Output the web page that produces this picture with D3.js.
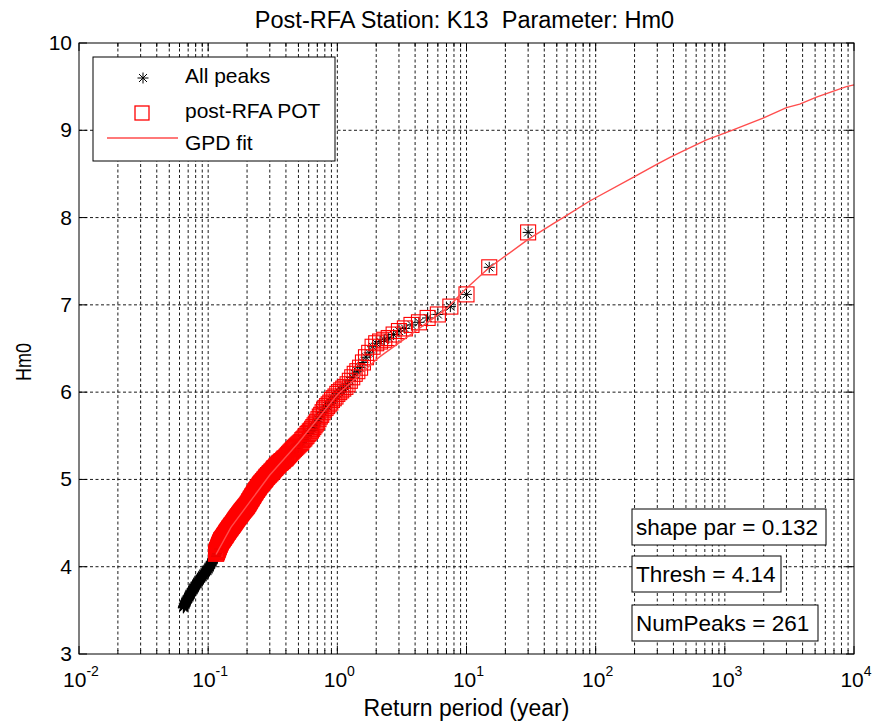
<!DOCTYPE html>
<html>
<head>
<meta charset="utf-8">
<script src="https://cdn.jsdelivr.net/npm/d3@7"></script>
<style>
  body { margin: 0; background: #fff; }
  svg text { font-family: Arial, "Liberation Sans", sans-serif; fill: #000; white-space: pre; }
</style>
</head>
<body>
<script>
// record length (years) used for the plotting position T = recordYears / rank
const recordYears = 30;

// all storm peaks Hm0, sorted descending (rank 1 first)
const peaksHm0 = [
  7.83, 7.43, 7.12, 6.98, 6.89, 6.85, 6.80, 6.77, 6.73, 6.70,
  6.66, 6.62, 6.60, 6.58, 6.56, 6.52, 6.45, 6.40, 6.34, 6.28,
  6.24, 6.21, 6.17, 6.13, 6.09, 6.06, 6.04, 6.02, 6.00, 5.98,
  5.95, 5.93, 5.91, 5.88, 5.86, 5.84, 5.82, 5.80, 5.77, 5.74,
  5.72, 5.69, 5.66, 5.64, 5.62, 5.60, 5.58, 5.56, 5.55, 5.53,
  5.52, 5.50, 5.49, 5.47, 5.46, 5.45, 5.43, 5.42, 5.41, 5.40,
  5.39, 5.38, 5.37, 5.36, 5.35, 5.34, 5.33, 5.32, 5.31, 5.30,
  5.29, 5.28, 5.27, 5.26, 5.25, 5.24, 5.24, 5.23, 5.22, 5.21,
  5.21, 5.20, 5.19, 5.19, 5.18, 5.17, 5.16, 5.16, 5.15, 5.14,
  5.13, 5.13, 5.12, 5.11, 5.10, 5.09, 5.09, 5.08, 5.07, 5.07,
  5.06, 5.05, 5.05, 5.04, 5.03, 5.03, 5.02, 5.01, 5.00, 5.00,
  4.99, 4.98, 4.98, 4.97, 4.96, 4.96, 4.95, 4.94, 4.94, 4.93,
  4.92, 4.91, 4.91, 4.90, 4.89, 4.88, 4.88, 4.87, 4.86, 4.85,
  4.85, 4.84, 4.83, 4.82, 4.81, 4.81, 4.80, 4.79, 4.78, 4.78,
  4.77, 4.76, 4.75, 4.75, 4.74, 4.73, 4.72, 4.72, 4.71, 4.70,
  4.70, 4.69, 4.69, 4.68, 4.68, 4.67, 4.67, 4.66, 4.66, 4.65,
  4.65, 4.64, 4.64, 4.63, 4.63, 4.62, 4.62, 4.61, 4.61, 4.60,
  4.60, 4.59, 4.59, 4.58, 4.58, 4.57, 4.57, 4.56, 4.56, 4.55,
  4.55, 4.54, 4.54, 4.53, 4.53, 4.52, 4.52, 4.51, 4.51, 4.50,
  4.50, 4.49, 4.49, 4.48, 4.48, 4.47, 4.47, 4.47, 4.46, 4.46,
  4.45, 4.45, 4.44, 4.44, 4.44, 4.43, 4.43, 4.42, 4.42, 4.41,
  4.41, 4.40, 4.40, 4.40, 4.39, 4.39, 4.38, 4.38, 4.37, 4.37,
  4.36, 4.36, 4.36, 4.35, 4.35, 4.34, 4.34, 4.33, 4.33, 4.33,
  4.32, 4.32, 4.31, 4.31, 4.31, 4.30, 4.30, 4.30, 4.29, 4.28,
  4.28, 4.27, 4.27, 4.26, 4.25, 4.25, 4.24, 4.23, 4.23, 4.22,
  4.21, 4.21, 4.20, 4.19, 4.19, 4.18, 4.17, 4.17, 4.16, 4.15,
  4.15, 4.13, 4.13, 4.12, 4.12, 4.11, 4.11, 4.11, 4.10, 4.10,
  4.09, 4.09, 4.08, 4.08, 4.08, 4.07, 4.07, 4.06, 4.06, 4.05,
  4.05, 4.05, 4.04, 4.04, 4.03, 4.03, 4.02, 4.02, 4.02, 4.01,
  4.01, 4.00, 4.00, 4.00, 3.99, 3.99, 3.99, 3.98, 3.98, 3.98,
  3.97, 3.97, 3.97, 3.96, 3.96, 3.96, 3.96, 3.95, 3.95, 3.95,
  3.95, 3.94, 3.94, 3.94, 3.94, 3.93, 3.93, 3.93, 3.93, 3.92,
  3.92, 3.92, 3.92, 3.91, 3.91, 3.91, 3.91, 3.90, 3.90, 3.90,
  3.90, 3.89, 3.89, 3.89, 3.89, 3.88, 3.88, 3.88, 3.88, 3.87,
  3.87, 3.87, 3.87, 3.86, 3.86, 3.86, 3.86, 3.85, 3.85, 3.85,
  3.85, 3.84, 3.84, 3.84, 3.84, 3.83, 3.83, 3.83, 3.83, 3.82,
  3.82, 3.82, 3.82, 3.81, 3.81, 3.81, 3.81, 3.80, 3.80, 3.80,
  3.80, 3.79, 3.79, 3.79, 3.79, 3.78, 3.78, 3.78, 3.77, 3.77,
  3.77, 3.77, 3.76, 3.76, 3.76, 3.76, 3.75, 3.75, 3.75, 3.75,
  3.74, 3.74, 3.74, 3.74, 3.73, 3.73, 3.73, 3.73, 3.72, 3.72,
  3.72, 3.71, 3.71, 3.71, 3.71, 3.70, 3.70, 3.70, 3.70, 3.69,
  3.69, 3.69, 3.68, 3.68, 3.68, 3.68, 3.67, 3.67, 3.67, 3.67,
  3.66, 3.66, 3.66, 3.65, 3.65, 3.65, 3.65, 3.64, 3.64, 3.64,
  3.64, 3.63, 3.63, 3.63, 3.62, 3.62, 3.62, 3.62, 3.61, 3.61,
  3.61, 3.61, 3.60, 3.60, 3.60, 3.59, 3.59, 3.59, 3.59, 3.58,
  3.58, 3.58, 3.57, 3.57, 3.57, 3.57, 3.56, 3.56, 3.56, 3.55,
  3.55, 3.55, 3.54, 3.54, 3.54, 3.53, 3.53
];

// number of peaks over threshold (the red squares are the top ranks)
const numPot = 261;
const threshold = 4.14;
const shapePar = 0.132;

// GPD fit
const fitT   = [0.115, 0.15, 0.2, 0.3, 0.5, 1, 2, 2.15, 5, 7.05, 10, 14.8, 30, 47, 56, 90, 195, 297, 376, 505, 721, 1095, 1977, 3000, 3800, 5120, 8730, 10000];
const fitHm0 = [4.14, 4.45, 4.70, 5.05, 5.42, 5.97, 6.37, 6.41, 6.80, 6.96, 7.19, 7.42, 7.75, 7.93, 8.00, 8.19, 8.46, 8.61, 8.69, 8.78, 8.89, 8.99, 9.14, 9.26, 9.30, 9.38, 9.50, 9.52];

const xDomain = [1e-2, 1e4];
const yTicks = [3, 4, 5, 6, 7, 8, 9, 10];
const xExponents = [-2, -1, 0, 1, 2, 3, 4];

const W = 874, H = 728;
const M = {left: 79, top: 43, right: 20, bottom: 74};
const pw = W - M.left - M.right, ph = H - M.top - M.bottom;

const svg = d3.select('body').append('svg')
  .attr('width', W).attr('height', H);

const x = d3.scaleLog().domain(xDomain).range([0, pw]);
const y = d3.scaleLinear().domain([3, 10]).range([ph, 0]);

const g = svg.append('g').attr('transform', 'translate(' + M.left + ',' + M.top + ')');

// grid
const minorX = [];
xExponents.forEach(e => {
  for (let m = 1; m < 10; m++) {
    const v = m * Math.pow(10, e);
    if (v >= xDomain[0] && v <= xDomain[1]) minorX.push(v);
  }
});

g.append('g').selectAll('line').data(minorX.filter(v => v > xDomain[0] && v < xDomain[1]))
  .enter().append('line')
  .attr('x1', d => x(d)).attr('x2', d => x(d))
  .attr('y1', 0).attr('y2', ph)
  .attr('stroke', '#000').attr('stroke-width', 0.9)
  .attr('stroke-dasharray', '3,2.5');

g.append('g').selectAll('line').data(yTicks.slice(1, -1))
  .enter().append('line')
  .attr('x1', 0).attr('x2', pw)
  .attr('y1', d => y(d)).attr('y2', d => y(d))
  .attr('stroke', '#000').attr('stroke-width', 0.9)
  .attr('stroke-dasharray', '3,2.5');

// ticks inside the box on all four sides
const tk = g.append('g').attr('stroke', '#000').attr('stroke-width', 1);
minorX.forEach(v => {
  const len = Number.isInteger(Math.log10(v)) ? 8 : 4;
  tk.append('line').attr('x1', x(v)).attr('x2', x(v)).attr('y1', ph).attr('y2', ph - len);
  tk.append('line').attr('x1', x(v)).attr('x2', x(v)).attr('y1', 0).attr('y2', len);
});
yTicks.forEach(v => {
  tk.append('line').attr('x1', 0).attr('x2', 8).attr('y1', y(v)).attr('y2', y(v));
  tk.append('line').attr('x1', pw).attr('x2', pw - 8).attr('y1', y(v)).attr('y2', y(v));
});

// data
const peaks = peaksHm0.map((h, i) => ({T: recordYears / (i + 1), h: h}));
const pot = peaks.slice(0, numPot);

const star = 'M-5.5,0L5.5,0M0,-5.5L0,5.5M-4,-4L4,4M-4,4L4,-4';

g.append('g').selectAll('path').data(peaks).enter().append('path')
  .attr('transform', d => 'translate(' + x(d.T) + ',' + y(d.h) + ')')
  .attr('d', star)
  .attr('stroke', '#000').attr('stroke-width', 1).attr('fill', 'none');

g.append('g').selectAll('rect').data(pot).enter().append('rect')
  .attr('x', d => x(d.T) - 7.5).attr('y', d => y(d.h) - 7.5)
  .attr('width', 15).attr('height', 15)
  .attr('fill', 'none').attr('stroke', '#ff0000').attr('stroke-width', 1.1);

const fit = fitT.map((t, i) => ({T: t, h: fitHm0[i]}));
g.append('path').datum(fit)
  .attr('d', d3.line().x(d => x(d.T)).y(d => y(d.h)))
  .attr('fill', 'none').attr('stroke', '#ff4d4d').attr('stroke-width', 1.4);

// box
g.append('rect').attr('width', pw).attr('height', ph)
  .attr('fill', 'none').attr('stroke', '#000').attr('stroke-width', 1);

// tick labels
const xl = svg.append('g').attr('font-size', 21);
xExponents.forEach(e => {
  const t = xl.append('text')
    .attr('x', M.left + x(Math.pow(10, e)) + 2)
    .attr('y', 687)
    .attr('text-anchor', 'middle');
  t.append('tspan').text('10');
  t.append('tspan').attr('dy', -11).attr('font-size', 14).text(e);
});

svg.append('g').attr('font-size', 21).selectAll('text').data(yTicks).enter().append('text')
  .attr('x', M.left - 7)
  .attr('y', d => M.top + y(d) + 7)
  .attr('text-anchor', 'end')
  .text(d => d);

// titles
svg.append('text').attr('x', M.left + pw / 2 - 2).attr('y', 28)
  .attr('text-anchor', 'middle').attr('font-size', 23.5)
  .text('Post-RFA Station: K13  Parameter: Hm0');

svg.append('text').attr('x', M.left + pw / 2).attr('y', 716)
  .attr('text-anchor', 'middle').attr('font-size', 23)
  .text('Return period (year)');

svg.append('text').attr('transform', 'translate(31,362) scale(1.25,1) rotate(-90)')
  .attr('text-anchor', 'middle').attr('font-size', 18)
  .text('Hm0');

// legend
const lg = svg.append('g').attr('transform', 'translate(93,57)');
lg.append('rect').attr('width', 242).attr('height', 104)
  .attr('fill', '#fff').attr('stroke', '#000').attr('stroke-width', 1);
lg.append('path').attr('transform', 'translate(50,21)').attr('d', star)
  .attr('stroke', '#000').attr('stroke-width', 1);
lg.append('rect').attr('x', 42).attr('y', 49).attr('width', 14).attr('height', 14)
  .attr('fill', 'none').attr('stroke', '#ff0000').attr('stroke-width', 1.3);
lg.append('line').attr('x1', 14).attr('x2', 85).attr('y1', 81).attr('y2', 81)
  .attr('stroke', '#ff4d4d').attr('stroke-width', 1.4);
const legendRows = [26, 61, 93];
['All peaks', 'post-RFA POT', 'GPD fit'].forEach((s, i) => {
  lg.append('text').attr('x', 92).attr('y', legendRows[i]).attr('font-size', 21).text(s);
});

// annotation boxes
const notes = [
  {text: 'shape par = ' + shapePar.toFixed(3), y: 509, w: 194},
  {text: 'Thresh = ' + threshold, y: 556, w: 149},
  {text: 'NumPeaks = ' + numPot, y: 605, w: 186}
];
notes.forEach(n => {
  const b = svg.append('g').attr('transform', 'translate(632,' + n.y + ')');
  b.append('rect').attr('width', n.w).attr('height', 36)
    .attr('fill', '#fff').attr('stroke', '#000').attr('stroke-width', 1);
  b.append('text').attr('x', 4).attr('y', 26).attr('font-size', 22.5).text(n.text);
});
</script>
</body>
</html>
